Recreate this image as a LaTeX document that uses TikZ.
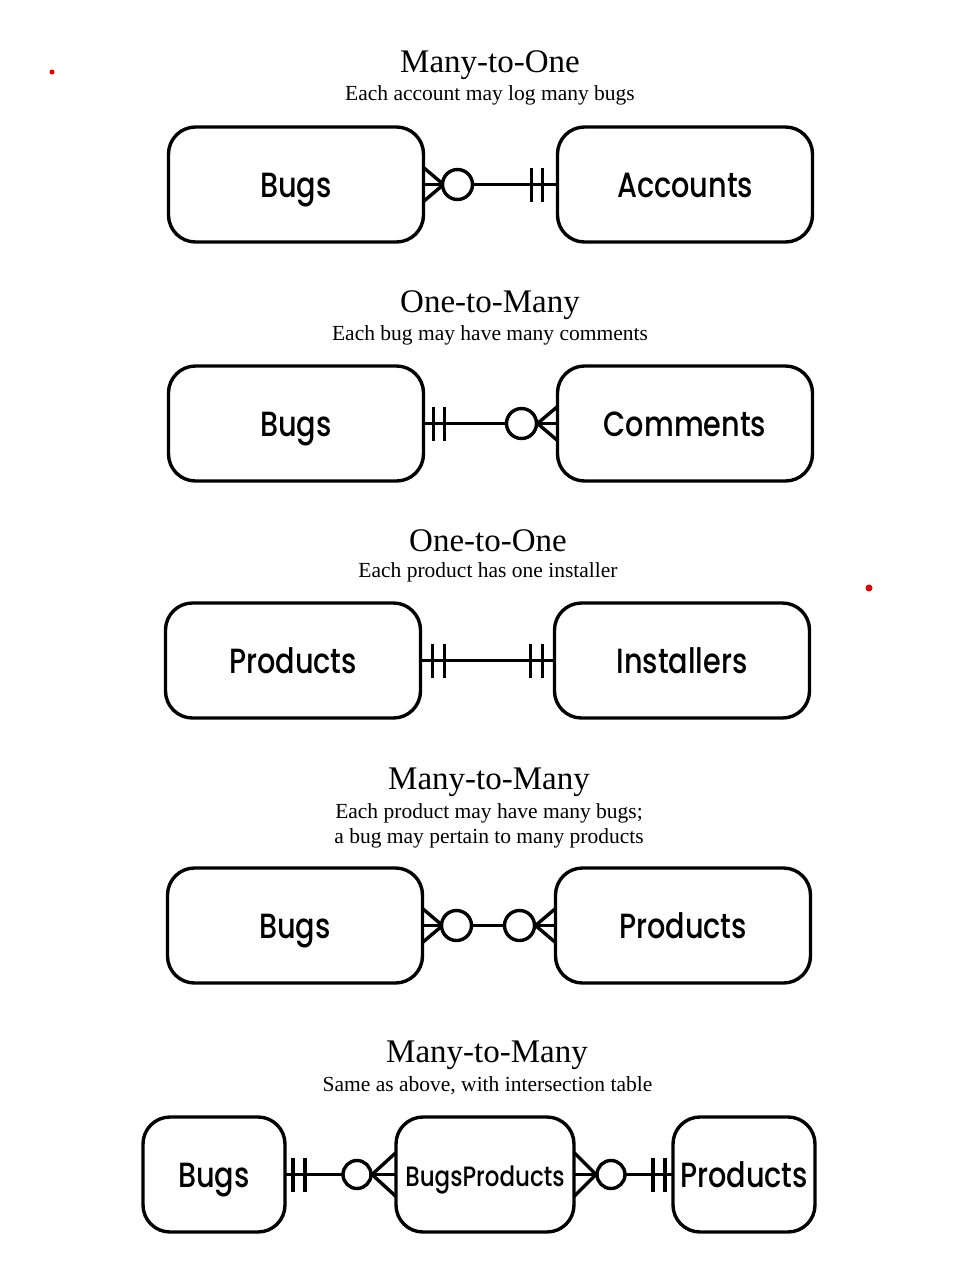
\documentclass[tikz,border=0pt]{standalone}
\usepackage{fontspec}
\setmainfont{Liberation Serif}
\newfontfamily\entfont{Poppins Medium}[FakeStretch=0.82]
\usetikzlibrary{calc}

\tikzset{
  entity/.style={draw, line width=3.4pt, rounded corners=27pt, minimum width=255pt,
    minimum height=115pt, inner sep=0pt, outer sep=0pt, text height=26pt, text depth=0pt,
    font=\entfont\fontsize{35}{40}\selectfont},
  heading/.style={font=\fontsize{33}{36}\selectfont},
  note/.style={font=\fontsize{21.5}{25}\selectfont, align=center},
  link/.style={line width=3.4pt}
}

\begin{document}
\begin{tikzpicture}[x=1pt,y=-1pt]
\useasboundingbox (0,0) rectangle (967,1270);
\fill[red!90!black] (52,72) circle (2.5pt);
\fill[red!90!black] (869,588) circle (3.5pt);

% many-to-one
\node[heading] (h1) at (490,65) {Many-to-One};
\node[note] (n1) at (490,95) {Each account may log many bugs};
\node[entity] (bugsA) at (296,184.5) {Bugs};
\node[entity] (accounts) at (685,184.5) {Accounts};
\draw[link] (bugsA.east) -- (accounts.west);
\draw[link] ($(bugsA.east)+(0,-17)$) -- ($(bugsA.east)+(20,0)$) -- ($(bugsA.east)+(0,17)$);
\draw[link,fill=white] ($(bugsA.east)+(34,0)$) circle (15pt);
\draw[link] ($(accounts.west)+(-15,-17)$) -- ++(0,34) ($(accounts.west)+(-26,-17)$) -- ++(0,34);

% one-to-many
\node[heading] (h2) at (490,305) {One-to-Many};
\node[note] (n2) at (490,335) {Each bug may have many comments};
\node[entity] (bugsB) at (296,423.5) {Bugs};
\node[entity] (comments) at (685,423.5) {Comments};
\draw[link] (bugsB.east) -- (comments.west);
\draw[link] ($(bugsB.east)+(10,-17)$) -- ++(0,34) ($(bugsB.east)+(21,-17)$) -- ++(0,34);
\draw[link] ($(comments.west)+(0,-17)$) -- ($(comments.west)+(-20,0)$) -- ($(comments.west)+(0,17)$);
\draw[link,fill=white] ($(comments.west)+(-36,0)$) circle (15pt);

% one-to-one
\node[heading] (h3) at (488,541) {One-to-One};
\node[note] (n3) at (488,572) {Each product has one installer};
\node[entity] (productsA) at (293,660.5) {Products};
\node[entity] (installers) at (682,660.5) {Installers};
\draw[link] (productsA.east) -- (installers.west);
\draw[link] ($(productsA.east)+(12,-17)$) -- ++(0,34) ($(productsA.east)+(24,-17)$) -- ++(0,34);
\draw[link] ($(installers.west)+(-12,-17)$) -- ++(0,34) ($(installers.west)+(-24,-17)$) -- ++(0,34);

% many-to-many
\node[heading] (h4) at (489,782) {Many-to-Many};
\node[note] (n4) at (489,825.5) {Each product may have many bugs;\\a bug may pertain to many products};
\node[entity] (bugsC) at (295,925.5) {Bugs};
\node[entity] (productsB) at (683,925.5) {Products};
\draw[link] (bugsC.east) -- (productsB.west);
\draw[link] ($(bugsC.east)+(0,-17)$) -- ($(bugsC.east)+(20,0)$) -- ($(bugsC.east)+(0,17)$);
\draw[link,fill=white] ($(bugsC.east)+(34,0)$) circle (15pt);
\draw[link] ($(productsB.west)+(0,-17)$) -- ($(productsB.west)+(-20,0)$) -- ($(productsB.west)+(0,17)$);
\draw[link,fill=white] ($(productsB.west)+(-36,0)$) circle (15pt);

% many-to-many, intersection table
\node[heading] (h5) at (487,1055) {Many-to-Many};
\node[note] (n5) at (487.5,1086) {Same as above, with intersection table};
\node[entity, minimum width=142pt] (bugsD) at (214,1174.5) {Bugs};
\node[entity, minimum width=178pt, text height=24pt, font=\entfont\fontsize{28}{32}\selectfont] (bugsproducts) at (485,1174.5) {BugsProducts};
\node[entity, minimum width=142pt] (productsC) at (744,1174.5) {Products};
\draw[link] (bugsD.east) -- (bugsproducts.west);
\draw[link] ($(bugsD.east)+(8,-17)$) -- ++(0,34) ($(bugsD.east)+(20,-17)$) -- ++(0,34);
\draw[link] ($(bugsproducts.west)+(0,-22)$) -- ($(bugsproducts.west)+(-24,0)$) -- ($(bugsproducts.west)+(0,22)$);
\draw[link,fill=white] ($(bugsproducts.west)+(-39,0)$) circle (14pt);
\draw[link] (bugsproducts.east) -- (productsC.west);
\draw[link] ($(bugsproducts.east)+(0,-22)$) -- ($(bugsproducts.east)+(22,0)$) -- ($(bugsproducts.east)+(0,22)$);
\draw[link,fill=white] ($(bugsproducts.east)+(37,0)$) circle (14pt);
\draw[link] ($(productsC.west)+(-8,-17)$) -- ++(0,34) ($(productsC.west)+(-20,-17)$) -- ++(0,34);
\end{tikzpicture}
\end{document}
